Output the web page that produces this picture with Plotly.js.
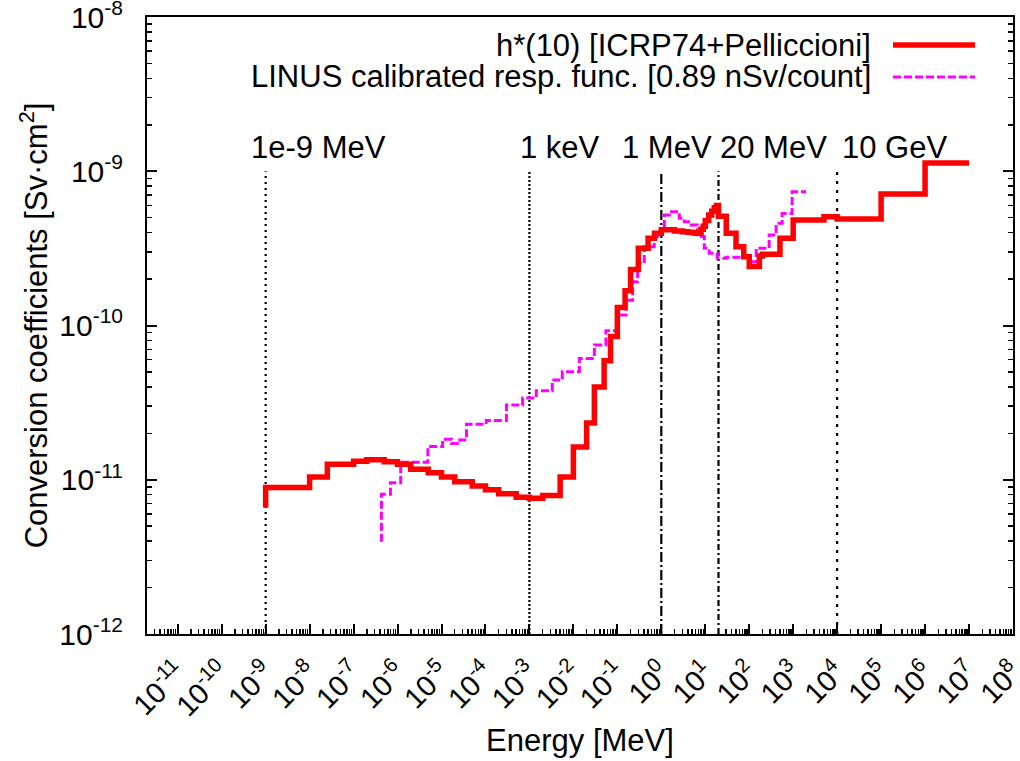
<!DOCTYPE html>
<html>
<head>
<meta charset="utf-8">
<script src="https://cdn.plot.ly/plotly-3.0.1.min.js"></script>
<style>
  body { margin: 0; background: #fff; }
  #plot { width: 1020px; height: 761px; }
</style>
</head>
<body>
<div id="plot"></div>
<script>
// h*(10) conversion coefficients, ICRP74 + Pelliccioni (fsteps: value holds up to its energy)
const redE = [1e-9, 1e-8, 2.53e-8, 1e-7, 2e-7, 5e-7, 1e-6, 2e-6, 5e-6, 1e-5, 2e-5, 5e-5,
    1e-4, 2e-4, 5e-4, 1e-3, 2e-3, 5e-3, 1e-2, 2e-2, 3e-2, 5e-2, 7e-2, 0.1, 0.15, 0.2, 0.3,
    0.5, 0.7, 1, 2, 3, 4, 5, 6, 7, 8, 9, 10, 12, 14, 16, 18, 20, 30, 50, 75, 100, 170, 200,
    500, 1000, 5000, 1e4, 1e5, 1e6, 1e7];
const redH = [6.6e-12, 8.9e-12, 1.04e-11, 1.26e-11, 1.32e-11, 1.35e-11, 1.31e-11, 1.26e-11,
    1.17e-11, 1.11e-11, 1.04e-11, 9.7e-12, 9.1e-12, 8.6e-12, 8.1e-12, 7.7e-12, 7.6e-12,
    7.9e-12, 1.04e-11, 1.63e-11, 2.33e-11, 4.0e-11, 5.9e-11, 8.5e-11, 1.31e-10, 1.68e-10,
    2.31e-10, 3.17e-10, 3.68e-10, 3.97e-10, 4.17e-10, 4.1e-10, 4.05e-10, 4.02e-10, 4.0e-10,
    3.97e-10, 3.97e-10, 4.2e-10, 4.4e-10, 4.8e-10, 5.2e-10, 5.5e-10, 5.8e-10, 6.0e-10,
    5.1e-10, 3.97e-10, 3.24e-10, 2.79e-10, 2.41e-10, 2.82e-10, 2.9e-10, 3.68e-10, 4.83e-10,
    5.07e-10, 4.9e-10, 7.12e-10, 1.13e-9];

// LINUS calibrated response function
const linusE = [4.3e-7, 6.9e-7, 1.18e-6, 4.9e-6, 1.06e-5, 1.7e-5, 2.6e-5, 3.7e-5, 1.04e-4,
    3.0e-4, 7.0e-4, 1.43e-3, 3.3e-3, 5.6e-3, 1.37e-2, 3.0e-2, 5.5e-2, 0.10, 0.158, 0.223,
    0.29, 0.41, 0.69, 0.98, 1.17, 1.52, 2.57, 3.33, 4.8, 6.6, 9.5, 12.3, 18.7, 30, 100, 144,
    284, 409, 560, 945, 1965];
const linusR = [3.96e-12, 8.05e-12, 9.57e-12, 1.30e-11, 1.64e-11, 1.83e-11, 1.72e-11,
    1.81e-11, 2.29e-11, 2.42e-11, 3.05e-11, 3.39e-11, 3.78e-11, 4.43e-11, 5.02e-11,
    6.12e-11, 7.48e-11, 9.26e-11, 1.17e-10, 1.46e-10, 1.92e-10, 2.53e-10, 3.24e-10,
    3.77e-10, 4.37e-10, 5.20e-10, 5.47e-10, 4.96e-10, 4.71e-10, 4.48e-10, 3.77e-10,
    3.17e-10, 2.94e-10, 2.73e-10, 2.77e-10, 2.59e-10, 3.17e-10, 3.86e-10, 4.60e-10,
    5.33e-10, 7.36e-10];

// reference energies drawn as vertical lines
const markerE = [1e-9, 1e-3, 1, 20, 1e4];
const markerLabels = ['1e-9 MeV', '1 keV', '1 MeV', '20 MeV', '10 GeV'];
const markerDash = ['2px,4px', '2px,2px', '10px,3px,2px,3px', '6px,3px,2px,3px', '3px,6px'];
const markerLabelX = [0.118, 0.428, 0.546, 0.659, 0.800];

const legendNames = ['h*(10) [ICRP74+Pelliccioni]', 'LINUS calibrated resp. func. [0.89 nSv/count]'];

const xExp = [-11, -10, -9, -8, -7, -6, -5, -4, -3, -2, -1, 0, 1, 2, 3, 4, 5, 6, 7, 8];
const yExp = [-12, -11, -10, -9, -8];

const FONT = 'Liberation Sans, Arial, Helvetica, sans-serif';
const TXT = 31;

let traces = [];

// marker lines
for (let i = 0; i < markerE.length; i++) {
    traces.push({
        x: [markerE[i], markerE[i]],
        y: [1e-12, 1e-9],
        mode: 'lines',
        line: { color: '#000', width: 2.2, dash: markerDash[i] },
        showlegend: false,
        hoverinfo: 'skip'
    });
}

traces.push({
    x: linusE, y: linusR,
    mode: 'lines',
    line: { color: '#ff00ff', width: 3, dash: '8px,3px', shape: 'vh' },
    name: legendNames[1],
    showlegend: false
});

traces.push({
    x: redE, y: redH,
    mode: 'lines',
    line: { color: '#ff0000', width: 5.5, shape: 'vh' },
    name: legendNames[0],
    showlegend: false
});

let annotations = [];
for (let i = 0; i < markerLabels.length; i++) {
    annotations.push({
        xref: 'paper', yref: 'paper',
        x: markerLabelX[i], y: 0.788,
        xanchor: 'left', yanchor: 'middle',
        text: markerLabels[i], showarrow: false,
        font: { family: FONT, size: TXT, color: '#000' }
    });
}

// gnuplot style key: text right-aligned, sample to the right
const keyY = [0.9546, 0.9028];
const keyColor = ['#ff0000', '#ff00ff'];
const keyWidth = [5.5, 3];
const keyDash = ['solid', '8px,3px'];
let shapes = [];
for (let i = 0; i < 2; i++) {
    annotations.push({
        xref: 'paper', yref: 'paper',
        x: 0.8383, y: keyY[i],
        xanchor: 'right', yanchor: 'middle',
        text: legendNames[i], showarrow: false,
        font: { family: FONT, size: TXT, color: '#000' }
    });
    shapes.push({
        type: 'line', xref: 'paper', yref: 'paper',
        x0: 0.8614, x1: 0.9561, y0: keyY[i], y1: keyY[i],
        line: { color: keyColor[i], width: keyWidth[i], dash: keyDash[i] }
    });
}

const layout = {
    width: 1020,
    height: 761,
    margin: { l: 147, r: 7, t: 17, b: 127 },
    paper_bgcolor: '#fff',
    plot_bgcolor: '#fff',
    font: { family: FONT, size: TXT, color: '#000' },
    xaxis: {
        type: 'log',
        range: [Math.log10(2e-12), 8],
        tickmode: 'array',
        tickvals: xExp.map(e => Math.pow(10, e)),
        ticktext: xExp.map(e => '10<sup>' + e + '</sup>'),
        tickangle: -45,
        ticks: 'inside',
        ticklen: 10,
        tickwidth: 2,
        tickcolor: '#000',
        ticklabelstandoff: 8,
        ticklabeloverflow: 'allow',
        minor: { ticks: 'inside', ticklen: 5, tickwidth: 1.5, tickcolor: '#000', dtick: 'D1', showgrid: false },
        showgrid: false,
        zeroline: false,
        showline: true,
        linecolor: '#000',
        linewidth: 2,
        mirror: true,
        tickfont: { family: FONT, size: 29 },
        title: { text: 'Energy [MeV]', font: { family: FONT, size: TXT }, standoff: 8 }
    },
    yaxis: {
        type: 'log',
        range: [-12, -8],
        tickmode: 'array',
        tickvals: yExp.map(e => Math.pow(10, e)),
        ticktext: yExp.map(e => '10<sup>' + e + '</sup>'),
        ticks: 'inside',
        ticklen: 10,
        tickwidth: 2,
        tickcolor: '#000',
        ticklabelstandoff: 16,
        ticklabeloverflow: 'allow',
        minor: { ticks: 'inside', ticklen: 5, tickwidth: 1.5, tickcolor: '#000', dtick: 'D1', showgrid: false },
        showgrid: false,
        zeroline: false,
        showline: true,
        linecolor: '#000',
        linewidth: 2,
        mirror: 'ticks',
        tickfont: { family: FONT, size: 30 },
        title: { text: 'Conversion coefficients [Sv·cm<sup>2</sup>]', font: { family: FONT, size: TXT }, standoff: 2 }
    },
    annotations: annotations,
    shapes: shapes,
    showlegend: false
};

Plotly.newPlot('plot', traces, layout, { staticPlot: true });
</script>
</body>
</html>
